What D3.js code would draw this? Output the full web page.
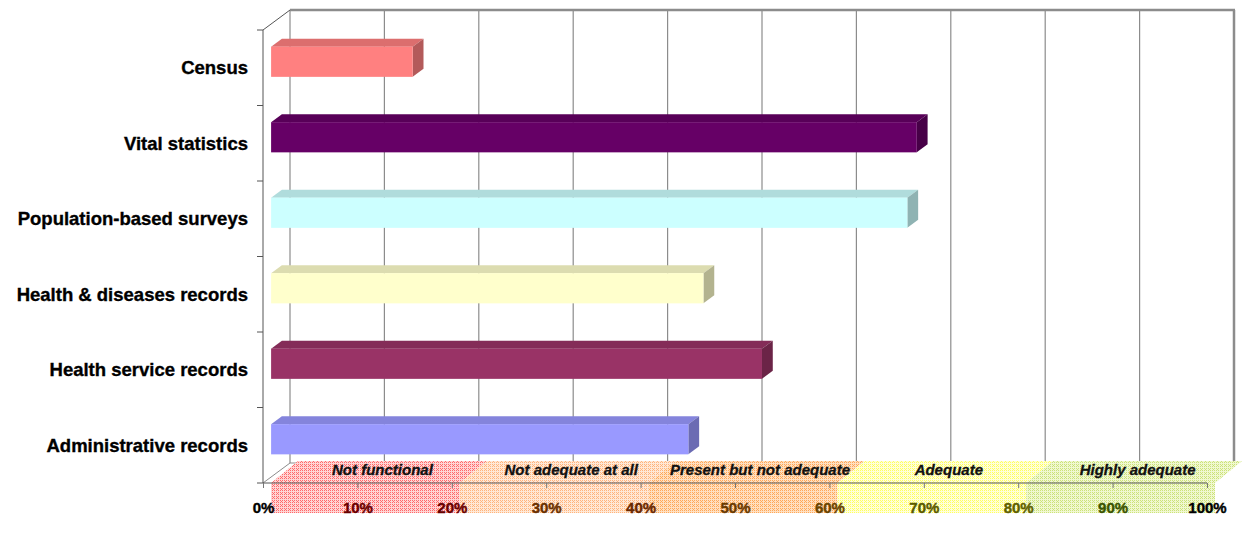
<html>
<head>
<meta charset="UTF-8">
<title>Data sources adequacy</title>
<script src="https://cdn.jsdelivr.net/npm/d3@7"></script>
<style>
  body { margin: 0; background: #fff; }
  text { font-family: "Liberation Sans", Arial, sans-serif; }
</style>
</head>
<body>
<div id="chart"></div>
<script>
// ---------------------------------------------------
// data
// ---------------------------------------------------
var categories = ["Census", "Vital statistics", "Population-based surveys",
  "Health & diseases records", "Health service records", "Administrative records"];
var values = [15, 68.4, 67.4, 45.8, 52.0, 44.2];
var barColors = ["#FF8080", "#660066", "#CCFFFF", "#FFFFCC", "#993366", "#9999FF"];
var percentTicks = [0, 10, 20, 30, 40, 50, 60, 70, 80, 90, 100];
var tickColors = ["#000", "#6a0000", "#6a0000", "#6a3000", "#6a2800", "#6a3a00",
  "#6a4400", "#5a5a00", "#606000", "#3a5400", "#000"];
var bandLabels = ["Not functional", "Not adequate at all", "Present but not adequate", "Adequate", "Highly adequate"];
var bandRanges = [[0, 20], [20, 40], [40, 60], [60, 80], [80, 100]];
var bandColors = [["#ffd4d4", "#ff6a6a"], ["#ffe8d6", "#ffb47c"], ["#ffdfc0", "#ffa858"],
  ["#ffffd8", "#ffff60"], ["#f0f8d0", "#cce27a"]];

// ---------------------------------------------------
// layout
// ---------------------------------------------------
var W = 1253, H = 533;
var dx = 27, dy = 20;          // depth offset of the back wall
var topY = 30, floorY = 483;
var z0 = 0.3, z1 = 0.7;        // bar depth (front / back face)

var svg = d3.select("#chart").append("svg")
  .attr("width", W).attr("height", H);

var x = d3.scaleLinear().domain([0, 100]).range([263, 1207]);
var y = d3.scaleBand().domain(categories).range([topY, floorY])
  .paddingInner(0.6).paddingOuter(0.3);

// dithered patterns for the bottom bands
var defs = svg.append("defs");
bandColors.forEach(function (c, i) {
  var p = defs.append("pattern").attr("id", "band" + i)
    .attr("width", 4).attr("height", 4).attr("patternUnits", "userSpaceOnUse");
  p.append("rect").attr("width", 4).attr("height", 4).attr("fill", c[0]);
  [[0, 0], [2, 2], [2, 0], [0, 2], [1, 1]].forEach(function (q) {
    p.append("rect").attr("x", q[0]).attr("y", q[1]).attr("width", 1).attr("height", 1).attr("fill", c[1]);
  });
});

// ---------------------------------------------------
// walls and gridlines
// ---------------------------------------------------
var grid = svg.append("g");
grid.selectAll(".vgrid").data(percentTicks).enter().append("line")
  .attr("x1", function (d) { return x(d) + dx; })
  .attr("x2", function (d) { return x(d) + dx; })
  .attr("y1", topY - dy).attr("y2", floorY - dy)
  .attr("stroke", "#8c8c8c").attr("stroke-width", function (d) { return d === 100 ? 2.5 : 1.2; });
grid.append("line")
  .attr("x1", x(0) + dx).attr("x2", x(100) + dx + 1)
  .attr("y1", topY - dy).attr("y2", topY - dy)
  .attr("stroke", "#8c8c8c").attr("stroke-width", 2.5);
// floor lines
grid.selectAll(".fgrid").data(percentTicks).enter().append("line")
  .attr("x1", function (d) { return x(d) + dx; })
  .attr("x2", function (d) { return x(d); })
  .attr("y1", floorY - dy).attr("y2", floorY)
  .attr("stroke", "#8c8c8c").attr("stroke-width", 1);
grid.append("line")
  .attr("x1", x(0) + dx).attr("x2", x(100) + dx)
  .attr("y1", floorY - dy).attr("y2", floorY - dy)
  .attr("stroke", "#8c8c8c");

// ---------------------------------------------------
// bottom bands
// ---------------------------------------------------
var bandG = svg.append("g");
var bx = function (v) { return x(v) + 8; };
bandG.selectAll(".floor").data(bandRanges).enter().append("path")
  .attr("fill", function (d, i) { return "url(#band" + i + ")"; })
  .attr("d", function (d) {
    return "M" + bx(d[0]) + "," + floorY + "L" + (bx(d[0]) + dx) + "," + (floorY - 22) +
      "L" + (bx(d[1]) + dx) + "," + (floorY - 22) + "L" + bx(d[1]) + "," + floorY + "Z";
  });
bandG.selectAll(".strip").data(bandRanges).enter().append("rect")
  .attr("fill", function (d, i) { return "url(#band" + i + ")"; })
  .attr("x", function (d) { return bx(d[0]); })
  .attr("width", function (d) { return bx(d[1]) - bx(d[0]); })
  .attr("y", floorY).attr("height", 30);
bandG.selectAll(".blabel").data(bandLabels).enter().append("text")
  .attr("x", function (d, i) { return (bx(bandRanges[i][0]) + bx(bandRanges[i][1])) / 2 + 17; })
  .attr("y", floorY - 8)
  .attr("text-anchor", "middle")
  .style("font-size", "15px").style("font-weight", "bold").style("font-style", "italic")
  .style("fill", "#111").style("stroke", "#111").style("stroke-width", 0.3)
  .text(function (d) { return d; });

// front floor edge
svg.append("line")
  .attr("x1", x(0)).attr("x2", x(100)).attr("y1", floorY).attr("y2", floorY)
  .attr("stroke", "#555").attr("stroke-width", 1);

// ---------------------------------------------------
// bars (3d)
// ---------------------------------------------------
var bars = svg.append("g").selectAll(".bar")
  .data(categories.map(function (c, i) { return { cat: c, v: values[i], col: barColors[i] }; }))
  .enter().append("g");

bars.each(function (d) {
  var g = d3.select(this);
  var fx0 = x(0) + z0 * dx, fx1 = x(d.v) + z0 * dx;
  var fy0 = y(d.cat) - z0 * dy, fy1 = fy0 + y.bandwidth();
  var ox = (z1 - z0) * dx, oy = (z1 - z0) * dy;
  // top face
  g.append("path")
    .attr("d", "M" + fx0 + "," + fy0 + "L" + (fx0 + ox) + "," + (fy0 - oy) +
      "L" + (fx1 + ox) + "," + (fy0 - oy) + "L" + fx1 + "," + fy0 + "Z")
    .attr("fill", d3.rgb(d.col).darker(0.42).formatHex());
  // side face
  g.append("path")
    .attr("d", "M" + fx1 + "," + fy0 + "L" + (fx1 + ox) + "," + (fy0 - oy) +
      "L" + (fx1 + ox) + "," + (fy1 - oy) + "L" + fx1 + "," + fy1 + "Z")
    .attr("fill", d3.rgb(d.col).darker(1).formatHex());
  // front face
  g.append("rect")
    .attr("x", fx0).attr("y", fy0)
    .attr("width", fx1 - fx0).attr("height", fy1 - fy0)
    .attr("fill", d.col);
});

// ---------------------------------------------------
// axes
// ---------------------------------------------------
var leftAxis = svg.append("g").attr("transform", "translate(" + x(0) + ",0)");
leftAxis.append("line").attr("x1", 0).attr("x2", 0).attr("y1", topY).attr("y2", floorY)
  .attr("stroke", "#555");
leftAxis.append("line").attr("x1", 0).attr("x2", dx).attr("y1", topY).attr("y2", topY - dy)
  .attr("stroke", "#555");
leftAxis.selectAll(".tick-l").data(d3.range(categories.length + 1)).enter().append("line")
  .attr("x1", -6).attr("x2", 0)
  .attr("y1", function (i) { return topY + i * y.step(); })
  .attr("y2", function (i) { return topY + i * y.step(); })
  .attr("stroke", "#555");

var catAxis = svg.append("g").attr("transform", "translate(" + (x(0) - 15) + ",0)")
  .call(d3.axisLeft(y).tickSize(0).tickPadding(0));
catAxis.select(".domain").remove();
catAxis.selectAll("text")
  .style("font-size", "18.5px").style("font-weight", "bold").style("fill", "#000")
  .style("stroke", "#000").style("stroke-width", 0.35)
  .attr("dy", "0.35em");

var xAxis = svg.append("g").attr("transform", "translate(0," + floorY + ")")
  .call(d3.axisBottom(x).tickValues(percentTicks).tickSize(5).tickPadding(14)
    .tickFormat(function (d) { return d + "%"; }));
xAxis.select(".domain").remove();
xAxis.selectAll(".tick line").attr("stroke", "#777");
xAxis.selectAll("text")
  .style("font-size", "15px").style("font-weight", "bold")
  .style("fill", function (d, i) { return tickColors[i]; })
  .style("stroke", function (d, i) { return tickColors[i]; }).style("stroke-width", 0.4);
</script>
</body>
</html>
